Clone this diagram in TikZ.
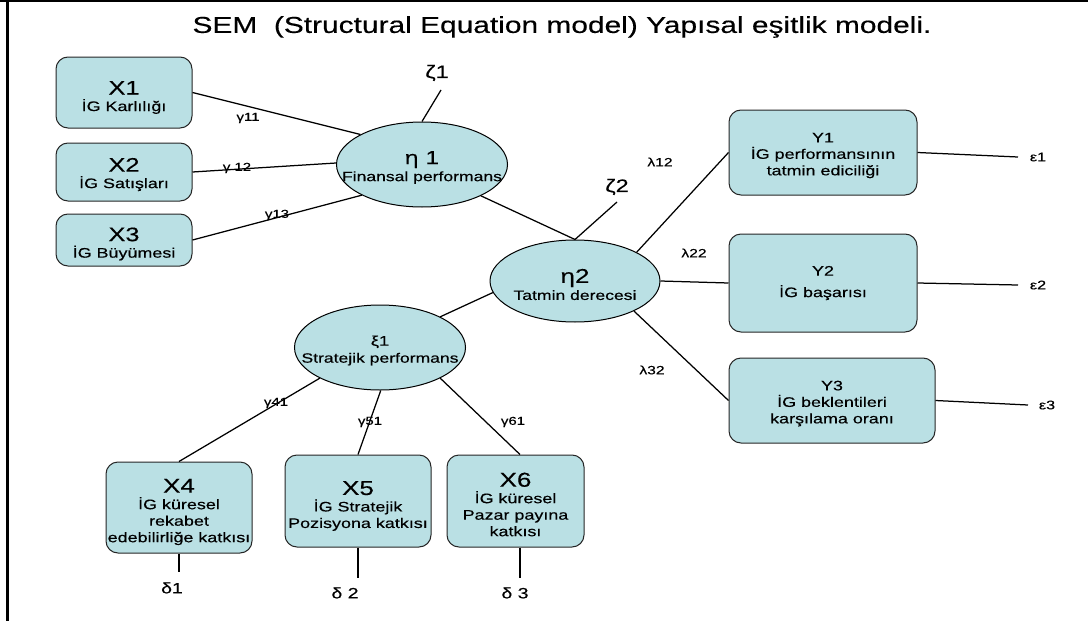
\documentclass[tikz,border=0pt]{standalone}
\usepackage{fontspec}
\setmainfont[FakeStretch=1.3,FakeBold=0.35]{Liberation Sans}
\usetikzlibrary{shapes.geometric,calc}
\definecolor{boxfill}{RGB}{186,224,228}
\begin{document}
\begin{tikzpicture}[x=1pt,y=-1pt,
  box/.style={draw=black!85, fill=boxfill, rounded corners=12pt, line width=1pt, inner sep=0pt},
  lat/.style={ellipse, draw, fill=boxfill, line width=1pt, inner sep=0pt},
  txt/.style={align=center, inner sep=0pt, font=\fontsize{13.8}{16.5}\selectfont},
  conn/.style={line width=1.25pt},
  lbl/.style={inner sep=0pt, font=\fontsize{11.5}{12}\selectfont}]
\useasboundingbox (0,0) rectangle (1088,621);
\fill[white] (0,0) rectangle (1088,621);
\draw[line width=2.5pt] (0,1.2) -- (1088,1.2);
\draw[line width=3pt] (7.5,0) -- (7.5,621);

\node[inner sep=0pt, font=\fontsize{23}{24}\selectfont] (title) at (562,27) {SEM\ \ (Structural Equation model) Yapısal eşitlik modeli.};

% exogenous boxes
\node[box, minimum width=136pt, minimum height=71pt] (x1) at (124,92.5) {};
\node[txt] (x1t) at ($(x1)+(0,5)$) {{\fontsize{19.5}{19.5}\selectfont X1}\\İG Karlılığı};
\node[box, minimum width=136pt, minimum height=58pt] (x2) at (124,172) {};
\node[txt] (x2t) at ($(x2)+(0,2.5)$) {{\fontsize{19.5}{19.5}\selectfont X2}\\İG Satışları};
\node[box, minimum width=136pt, minimum height=52pt] (x3) at (124,240) {};
\node[txt] (x3t) at ($(x3)+(0,4)$) {{\fontsize{19.5}{19.5}\selectfont X3}\\İG Büyümesi};

% latent
\node[lat, minimum width=171pt, minimum height=85pt] (eta1) at (422,164.5) {};
\node[txt, font=\fontsize{13.5}{17}\selectfont] (eta1t) at ($(eta1)+(0,3)$) {{\fontsize{19}{19}\selectfont η 1}\\Finansal performans};
\node[lat, minimum width=170pt, minimum height=82pt] (eta2) at (575,281) {};
\node[txt, font=\fontsize{13.5}{17}\selectfont] (eta2t) at ($(eta2)+(0,3.5)$) {{\fontsize{20}{20}\selectfont η2}\\Tatmin derecesi};
\node[lat, minimum width=171pt, minimum height=85pt] (xi1) at (380,347.5) {};
\node[txt, font=\fontsize{13.5}{17}\selectfont] (xi1t) at ($(xi1)+(0,3)$) {{\fontsize{14}{14}\selectfont ξ1}\\Stratejik performans};

% endogenous boxes
\node[box, minimum width=188pt, minimum height=85pt] (y1) at (823,152.5) {};
\node[txt] (y1t) at ($(y1)+(0,3)$) {Y1\\İG performansının\\tatmin ediciliği};
\node[box, minimum width=188pt, minimum height=98pt] (y2) at (823,283) {};
\node[txt] (y2t) at ($(y2)+(0,0)$) {Y2\\[5pt]İG başarısı};
\node[box, minimum width=206pt, minimum height=85pt] (y3) at (832,400.5) {};
\node[txt] (y3t) at ($(y3)+(0,3)$) {Y3\\İG beklentileri\\karşılama oranı};

% bottom boxes
\node[box, minimum width=146pt, minimum height=91pt] (x4) at (179,507.5) {};
\node[txt] (x4t) at ($(x4)+(0,4.5)$) {{\fontsize{20}{20}\selectfont X4}\\İG küresel\\rekabet\\edebilirliğe katkısı};
\node[box, minimum width=146pt, minimum height=92pt] (x5) at (358,501) {};
\node[txt] (x5t) at ($(x5)+(0,5)$) {{\fontsize{20}{20}\selectfont X5}\\İG Stratejik\\Pozisyona katkısı};
\node[box, minimum width=137pt, minimum height=92pt] (x6) at (515.5,501) {};
\node[txt] (x6t) at ($(x6)+(0,3.5)$) {{\fontsize{20}{20}\selectfont X6}\\İG küresel\\Pazar payına\\katkısı};

% error terms
\node[inner sep=0pt, font=\fontsize{18}{18}\selectfont] (z1) at (437,73) {ζ1};
\coordinate (z1c) at (441,90);
\node[inner sep=0pt, font=\fontsize{18}{18}\selectfont] (z2) at (617,187) {ζ2};
\coordinate (z2c) at (617,202);
\node[inner sep=0pt, font=\fontsize{12.5}{13}\selectfont] (e1) at (1038,157) {ε1};
\coordinate (e1c) at (1018,157);
\node[inner sep=0pt, font=\fontsize{12.5}{13}\selectfont] (e2) at (1038,285) {ε2};
\coordinate (e2c) at (1018,285);
\node[inner sep=0pt, font=\fontsize{12.5}{13}\selectfont] (e3) at (1047,405) {ε3};
\coordinate (e3c) at (1028,405);
\node[inner sep=0pt, font=\fontsize{15}{15}\selectfont] (d1) at (172,588) {δ1};
\coordinate (d1c) at (179,572);
\node[inner sep=0pt, font=\fontsize{15}{15}\selectfont] (d2) at (345,593) {δ 2};
\coordinate (d2c) at (358,578);
\node[inner sep=0pt, font=\fontsize{15}{15}\selectfont] (d3) at (515,593) {δ 3};
\coordinate (d3c) at (520,578);

% coefficient labels
\node[lbl] (g11) at (248,118) {γ11};
\node[lbl] (g12) at (237,168) {γ 12};
\node[lbl] (g13) at (277,215) {γ13};
\node[lbl] (g41) at (276,403) {γ41};
\node[lbl] (g51) at (370,422) {γ51};
\node[lbl] (g61) at (513,422) {γ61};
\node[lbl, font=\fontsize{12}{12}\selectfont] (l12) at (660,162) {λ12};
\node[lbl, font=\fontsize{12}{12}\selectfont] (l22) at (694,253) {λ22};
\node[lbl, font=\fontsize{12}{12}\selectfont] (l32) at (652,370) {λ32};

% connectors
\draw[conn] (x1.east) -- (eta1.154);
\draw[conn] (x2.east) -- (eta1.179);
\draw[conn] (x3.east) -- (eta1.207);
\draw[conn] (z1c) -- (eta1.90);
\draw[conn] (eta1.332) -- (eta2.90);
\draw[conn] (z2c) -- (eta2.90);
\draw[conn] (eta2.25) -- (y1.west);
\draw[conn] (eta2.0) -- (y2.west);
\draw[conn] (eta2.333) -- (y3.west);
\draw[conn] (xi1.27) -- (eta2.188);
\draw[conn] (xi1.207) -- (x4.north);
\draw[conn] (xi1.271) -- (x5.north);
\draw[conn] (xi1.333) -- (d3c |- x6.north);
\draw[conn] (y1.east) -- (e1c);
\draw[conn] (y2.east) -- (e2c);
\draw[conn] (y3.east) -- (e3c);
\draw[conn] (x4.south) -- (d1c);
\draw[conn] (x5.south) -- (d2c);
\draw[conn] (d3c |- x6.south) -- (d3c);
\end{tikzpicture}
\end{document}
